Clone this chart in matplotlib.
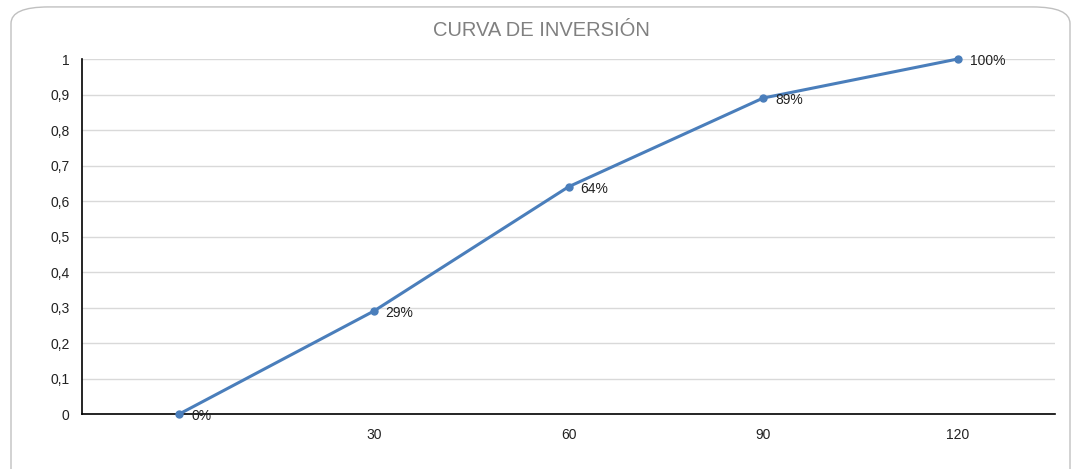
import matplotlib
matplotlib.use("Agg")
import matplotlib.pyplot as plt
from matplotlib.patches import FancyBboxPatch

plt.rcParams["font.family"] = ["Liberation Sans", "DejaVu Sans"]

# data
categories = ["", "30", "60", "90", "120"]
values = [0.0, 0.29, 0.64, 0.89, 1.0]
labels = ["0%", "29%", "64%", "89%", "100%"]
yticks = [0, 0.1, 0.2, 0.3, 0.4, 0.5, 0.6, 0.7, 0.8, 0.9, 1.0]

LINE = "#4a7ebb"

fig = plt.figure(figsize=(10.73, 4.69), dpi=100)

# rounded chart frame, kept behind the axes
frame = FancyBboxPatch((11 / 1073, -0.05), 1059 / 1073, (469 - 6) / 469 + 0.05 - 0.002,
                       boxstyle="round,pad=0,rounding_size=0.035",
                       transform=fig.transFigure, facecolor="white",
                       edgecolor="#c0c0c0", linewidth=1.0, mutation_aspect=469 / 1073 * 2.3,
                       zorder=-10)
fig.patches.append(frame)

ax = fig.add_axes([82 / 1073, (469 - 414) / 469, (1055 - 82) / 1073, (414 - 59) / 469])
ax.set_facecolor("none")

x = list(range(len(categories)))
ax.plot(x, values, color=LINE, linewidth=2.2, marker="o", markersize=5, zorder=3,
        clip_on=False)
for xi, v, lab in zip(x, values, labels):
    ax.annotate(lab, (xi, v), xytext=(8.5, -1.5), textcoords="offset points",
                ha="left", va="center", fontsize=10, color="#222222")

ax.set_xlim(-0.5, len(categories) - 0.5)
ax.set_ylim(0, 1)
ax.set_xticks(x)
ax.set_xticklabels(categories)
ax.set_yticks(yticks)
ax.set_yticklabels([f"{t:g}".replace(".", ",") for t in yticks])
ax.tick_params(length=0, labelsize=10, colors="#222222")
ax.tick_params(axis="x", pad=10)
ax.tick_params(axis="y", pad=9)
ax.grid(axis="y", color="#d9d9d9", linewidth=1.0)
ax.set_axisbelow(True)
for side in ["top", "right"]:
    ax.spines[side].set_visible(False)
for side in ["left", "bottom"]:
    ax.spines[side].set_color("black")
    ax.spines[side].set_linewidth(1.2)

fig.text(541 / 1073, 1 - 31 / 469, "CURVA DE INVERSIÓN", ha="center", va="center",
         fontsize=14.5, color="#808080")

fig.savefig("out.png", dpi=100)
